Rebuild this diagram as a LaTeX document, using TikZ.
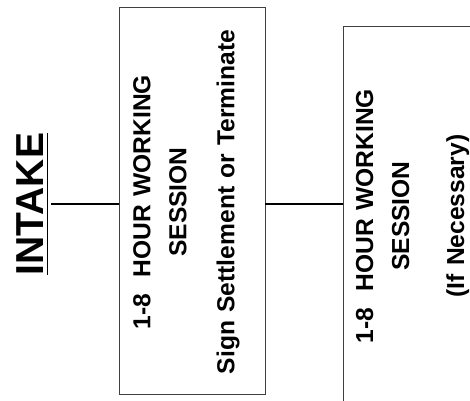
\documentclass[tikz,border=0pt]{standalone}
\usepackage{fontspec}
\setmainfont{Liberation Sans}

\begin{document}
\begin{tikzpicture}[x=1pt, y=1pt,
    box/.style={rectangle, draw=black!75, line width=0.7pt, minimum width=146pt, minimum height=387pt},
    boxtext/.style={rotate=90, text width=370pt, align=center, inner sep=0pt, font=\fontsize{24.6}{36}\selectfont\bfseries},
    link/.style={line width=1.3pt}]
    \useasboundingbox (0,0) rectangle (470,400);
    \clip (0,0) rectangle (470,400);

    % Title
    \node[rotate=90, anchor=base, inner sep=3pt, font=\fontsize{39}{45}\selectfont\bfseries] (intake) at (43,196)
        {\vtop{\hbox{INTAKE}\kern3.5pt\hrule height 1.6pt}};

    % Sessions
    \node[box] (box1) at (192,199.5) {};
    \node[boxtext] (session1) at (186.5,198) {1-8~ HOUR WORKING\\SESSION\\[12pt]Sign Settlement or Terminate};
    \node[box] (box2) at (416,180.5) {};
    \node[boxtext] (session2) at (412.5,184) {1-8~ HOUR WORKING\\SESSION\\[19pt](If Necessary)};

    % Links
    \draw[link] (intake.south) -- (intake.south -| box1.west);
    \draw[link] (box1.east |- intake.south) -- (box2.west |- intake.south);
\end{tikzpicture}
\end{document}
